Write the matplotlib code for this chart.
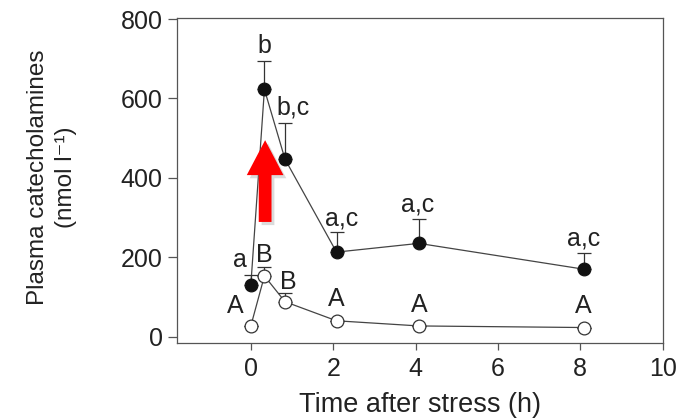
import numpy as np
import matplotlib
matplotlib.use('Agg')
import matplotlib.pyplot as plt
from matplotlib.patches import FancyArrow

plt.rcParams['font.family'] = ['Liberation Sans', 'DejaVu Sans']

# data
hours = [0, 0.33, 0.83, 2.08, 4.08, 8.08]
stressed = [130, 623, 447, 213, 235, 170]
stressed_err = [25, 71, 92, 50, 62, 42]
stressed_letters = ['a', 'b', 'b,c', 'a,c', 'a,c', 'a,c']
control = [27, 153, 88, 40, 27, 23]
control_err = [0, 23, 21, 0, 0, 0]
control_letters = ['A', 'B', 'B', 'A', 'A', 'A']

# label offsets (pixels) from the top of each error bar / point
stressed_dx = [-11, 0, 8, 5, -1, 0]
stressed_dy = [8, 8, 8, 7, 7, 7]
control_dx = [-16, 0, 3, 0, 0, 0]
control_dy = [7, 5, 4, 9, 8, 9]

ink = '#222222'
linec = '#444444'

fig = plt.figure(figsize=(6.83, 4.18), dpi=100)
ax = fig.add_axes([0.2587, 0.1794, 0.7116, 0.7768])

ax.plot(hours, stressed, color=linec, lw=0.9, zorder=2)
ax.plot(hours, control, color=linec, lw=0.9, zorder=2)
ax.errorbar(hours, stressed, yerr=[np.zeros(len(stressed)), stressed_err], fmt='none',
            ecolor='#333333', elinewidth=0.9, capsize=5.3, capthick=0.9, zorder=3)
ax.errorbar(hours, control, yerr=[np.zeros(len(control)), control_err], fmt='none',
            ecolor='#333333', elinewidth=0.9, capsize=5.3, capthick=0.9, zorder=3)
ax.plot(hours, stressed, 'o', ms=9.2, mfc='#111111', mec='#111111', mew=0.8, zorder=4)
ax.plot(hours, control, 'o', ms=9.2, mfc='white', mec='#333333', mew=0.9, zorder=4)

px = 0.72
for x, y, e, t, dx, dy in zip(hours, stressed, stressed_err, stressed_letters, stressed_dx, stressed_dy):
    ax.annotate(t, (x, y + e), xytext=(dx * px, dy * px), textcoords='offset points',
                ha='center', va='baseline', fontsize=18, color=ink, zorder=5)
for x, y, e, t, dx, dy in zip(hours, control, control_err, control_letters, control_dx, control_dy):
    top = y + max(e, 15)
    ax.annotate(t, (x, top), xytext=(dx * px, dy * px), textcoords='offset points',
                ha='center', va='baseline', fontsize=18, color=ink, zorder=5)

# red arrow with a soft shadow
shadow = FancyArrow(0.347 + 0.07, 289 - 8, 0, 206, width=0.31, head_width=0.89,
                    head_length=88, length_includes_head=True, color='#999999',
                    alpha=0.35, lw=0, zorder=6)
ax.add_patch(shadow)
arrow = FancyArrow(0.347, 289, 0, 206, width=0.31, head_width=0.89,
                   head_length=88, length_includes_head=True, color='#ff0000',
                   lw=0, zorder=7)
ax.add_patch(arrow)

ax.set_xlim(-1.8, 10)
ax.set_ylim(-16, 802)
ax.set_xticks([0, 2, 4, 6, 8, 10])
ax.set_yticks([0, 200, 400, 600, 800])
for s in ax.spines.values():
    s.set_color('#555555')
    s.set_linewidth(0.9)
ax.tick_params(axis='both', direction='out', width=0.9, color='#555555', labelcolor=ink)
ax.tick_params(axis='x', labelsize=18, length=5, pad=4.8)
ax.tick_params(axis='y', labelsize=18, length=6.5, pad=3.5)

ax.set_xlabel('Time after stress (h)', fontsize=19.5, color=ink, labelpad=8)
ax.set_ylabel('Plasma catecholamines\n(nmol l\u207b\u00b9)', fontsize=17.5, color=ink,
              linespacing=1.36)
ax.yaxis.set_label_coords(-0.205, 0.51)

plt.savefig('out.png', dpi=100)
